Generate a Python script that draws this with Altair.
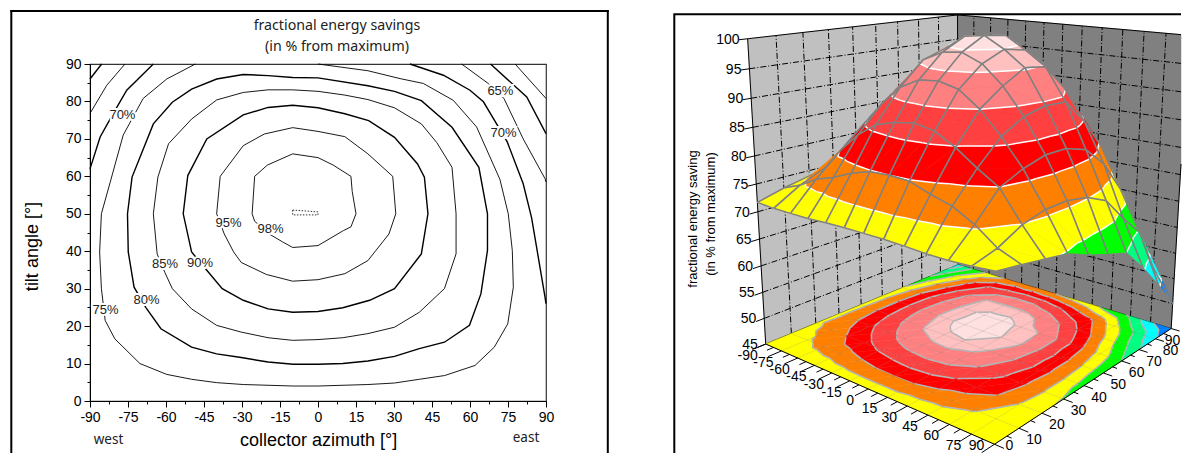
import altair as alt
import numpy as np
import pandas as pd

# ---------- left panel: contour lines (azimuth, tilt)
c100 = [(-10,51),(0,50.5),(0,49.7),(-10,49.7),(-10,51)]
c98 = [(-10,66),(0,65),(6,63),(13,60),(13.5,56),(15,50),(13,46.5),(10,45.5),(0,41.5),(-10,41),(-14,42.5),(-19,44.5),(-25,48),(-26,50),(-25.5,55),(-25,60),(-20,63),(-10,66)]
c95 = [(-10,73),(0,72),(10.6,70.6),(19.7,66),(29.5,60),(30.7,50),(28,44.6),(19.7,37.5),(10.6,34),(0,32.4),(-10,32),(-20.4,33.8),(-30.3,37),(-33.3,39.8),(-37,44.6),(-40,50),(-38.6,60),(-29.5,68.2),(-21.2,71.3),(-10,73)]
c90 = [(-10,79),(0,78.3),(10.6,76.7),(20,74.9),(30.2,70.4),(39.3,63.3),(42,59.8),(43.4,50),(40.8,39.3),(30.2,30),(20.4,26.9),(9.8,24.9),(0,23.9),(-10,23.7),(-19.7,24.6),(-29.5,26.9),(-37.8,30),(-43.9,34.9),(-49.9,39.8),(-53.2,50),(-51.4,60.2),(-43.9,70),(-29.5,76.4),(-19.7,78.4),(-10,79)]
c85 = [(-10,83.1),(0,82.7),(10.6,81.7),(19.7,80.5),(30.2,78.3),(40.8,74),(46.9,69),(52.9,62.4),(54.5,50),(54.5,39.3),(49.9,30),(40,23.7),(30.2,19.7),(19.7,18),(9.8,16.9),(0,16.4),(-10,16.2),(-19.7,16.9),(-30.3,18.4),(-40,20.2),(-49.9,24.6),(-57.5,30),(-60.5,34.4),(-63.5,39.3),(-65,50),(-63.2,59.8),(-59,68.7),(-49.9,75.3),(-40,80.4),(-29.5,82.4),(-19.7,83.1),(-10,83.1)]
c80 = [(-29.5,87.2),(-19.7,86.9),(-10,86.4),(0,86.3),(19.7,84.2),(30.2,82.7),(40.8,80.2),(52.9,73.1),(63.5,62.4),(66.9,50),(66.9,40.2),(64.3,28.6),(59.8,20.2),(49.9,15.7),(40,14),(30.2,11.9),(19.7,10.7),(9.8,10),(0,9.8),(-9.8,9.8),(-19.7,10.4),(-30.3,11.6),(-40,12.6),(-49.9,14.4),(-62,19.3),(-68,25),(-72.6,30.4),(-74.9,39.8),(-75.2,50),(-73.4,59.8),(-65,74),(-57.5,79.8),(-49.9,83.3),(-40,86),(-29.5,87.2)]
c75 = [(-48.4,90),(-59.7,86),(-69,80.8),(-76.9,71),(-82,58.5),(-85.5,50),(-86.2,39.8),(-85.5,30),(-84,21.5),(-80.2,16.6),(-70.3,10),(-59.7,7.1),(-49.9,5.8),(-40,4.9),(-29.5,4.4),(-9.8,4),(0,4),(19.7,4.4),(30.2,4.8),(40,5.8),(50,6.8),(62,9.5),(69.6,14.4),(74.9,20.6),(77.1,30.4),(76.7,40.2),(75.1,50),(71.8,59.2),(62.6,73.2),(53.4,80.3),(41.6,84.8),(32.4,86.1),(19.7,88.2),(0,90)]
c70w = [(-65,90),(-75.5,83),(-80.8,76.8),(-86,70.5),(-90,62)]
c70e = [(36.3,90),(49.5,87),(60,83),(65.3,79.9),(71.2,73.2),(74.7,69.2),(81,58),(84.3,49),(86.3,41),(89.6,27.8),(90,26)]
c65w = [(-76.2,90),(-83.4,84.3),(-90,76.8)]
c65e = [(56.7,90),(67.2,84.8),(73.4,80.8),(81,70),(89.6,59.4),(90,58.5)]
c60w = [(-85.4,90),(-90,86)]
c60e = [(68.1,90),(82.4,81.2),(90,71.4)]
c55e = [(77.8,90),(90,80.8)]

contour_parts = [("c100",c100,0.8),("c98",c98,0.9),("c95",c95,0.9),("c90",c90,1.4),("c85",c85,0.9),("c80",c80,1.4),("c75",c75,0.9),
                 ("c70w",c70w,1.4),("c70e",c70e,1.4),("c65w",c65w,0.9),("c65e",c65e,0.9),("c60w",c60w,1.4),("c60e",c60e,1.4),("c55e",c55e,0.9)]

label_text = ["70%","65%","70%","95%","98%","85%","90%","80%","75%"]
label_az   = [-77.2,72,73.2,-35.3,-18.7,-60.4,-46.6,-67.7,-83.9]
label_tilt = [76.4,82.8,71.5,47.5,45.9,36.5,36.8,26.9,24.2]

az_major = [-90,-75,-60,-45,-30,-15,0,15,30,45,60,75,90]
az_minor = [-82.5,-67.5,-52.5,-37.5,-22.5,-7.5,7.5,22.5,37.5,52.5,67.5,82.5]
tilt_major = [0,10,20,30,40,50,60,70,80,90]
tilt_minor = [5,15,25,35,45,55,65,75,85]

# ---------- right panel: surface values
grid_az = az_major
grid_tilt = tilt_major
Z = [
 [71.7,71.5,71.5,71.5,71.7,71.8,71.8,71.8,71.7,71.5,71.5,71.7,72.0],
 [73,74.3,76.2,77.3,78.8,79.8,80,79.8,78.5,77.5,75.5,72.8,71.3],
 [74,76.3,80.3,83.6,86,87,87.5,86.8,84.8,82.2,79.9,74.9,70.5],
 [73.5,79,84.2,88.2,91.5,93.3,93.6,92.7,90,86.2,81.7,75.9,69.7],
 [73,80,86.2,91.5,95.6,97.3,97.7,96.2,93,88.5,82.8,76,67.8],
 [72.5,80,87,93.1,97.1,99.5,100,98,95.3,89.4,82.8,75.2,66.3],
 [70.5,79,86.4,92.4,96.9,99,99.5,97.3,94.8,89.2,81.5,73.3,64.9],
 [67,75.7,83.5,89.8,95.2,95.8,95.8,94.2,90.3,84.9,77.8,68.7,60.5],
 [62.5,71,79,84.8,87,88.5,88.3,86,82.6,79.3,72,64.6,55.5],
 [57,65.5,71.5,75.3,76.5,76,75,73.5,71.5,67.5,64.3,56,50],
]
band_edges = [0,50,55,60,65,70,75,80,85,90,95,98,101]
band_colors = ['#0000ff','#0080ff','#00ffff','#00ff80','#00ff00','#ffff00','#ff8000','#ff0000','#ff4040','#ff8080','#ffc0c0','#ffe0e0']
z_labels = [45,50,55,60,65,70,75,80,85,90,95,100]

# camera calibration: cube corners (azimuth, tilt, value) and where they appear
cube_corners = [(-90,0,45),(90,0,45),(90,90,45),(-90,90,45),(-90,0,100),(-90,90,100),(90,90,100)]
cube_pixels = [(766,343),(996,443),(1171.5,328),(960,263.5),(749,38),(958,14),(1190,34)]

X0,X1,Y0,Y1 = 660,1182,63,400
BOTTOM = 452

def norm(a,t,z):
    return ((a+90)/180.0, t/90.0, (z-45)/55.0, 1.0)
A = []
for (a,t,z),(x,y) in zip(cube_corners,cube_pixels):
    X = norm(a,t,z)
    A.append([*X,0,0,0,0,*[-x*v for v in X]])
    A.append([0,0,0,0,*X,*[-y*v for v in X]])
P = np.linalg.svd(np.array(A))[2][-1].reshape(3,4)
def project(a,t,z):
    h = P @ np.array(norm(a,t,z))
    return float(h[0]/h[2]), float(h[1]/h[2])

def clip_tri(poly, level, keep_above):
    out = []
    n = len(poly)
    for i in range(n):
        p, q = poly[i], poly[(i+1) % n]
        pin = p[2] >= level if keep_above else p[2] <= level
        qin = q[2] >= level if keep_above else q[2] <= level
        if pin:
            out.append(p)
        if pin != qin:
            f = (level-p[2])/(q[2]-p[2])
            out.append((p[0]+f*(q[0]-p[0]), p[1]+f*(q[1]-p[1]), level))
    return out

def clip_right(points):
    out = []
    for p,q in zip(points[:-1],points[1:]):
        if p[0] <= X1:
            out.append(p)
        if (p[0] <= X1) != (q[0] <= X1):
            f = (X1-p[0])/(q[0]-p[0])
            out.append((X1, p[1]+f*(q[1]-p[1])))
    if points[-1][0] <= X1:
        out.append(points[-1])
    return out

rows = []
pid = [0]
def add(points, fill, stroke, width):
    pid[0] += 1
    for k,(x,y) in enumerate(clip_right(points)):
        rows.append(dict(id=pid[0],k=k,px=x,py=min(y,BOTTOM),f=fill,s=stroke,w=width))

def draw_patch(i, j, floor, line_col, line_w):
    az0,az1 = grid_az[i],grid_az[i+1]
    t0,t1 = grid_tilt[j],grid_tilt[j+1]
    a=(az0,t0,Z[j][i]); b=(az1,t0,Z[j][i+1]); c=(az1,t1,Z[j+1][i+1]); d=(az0,t1,Z[j+1][i])
    pr = (lambda v: project(v[0],v[1],45)) if floor else (lambda v: project(*v))
    segs = []
    for tri in ([a,b,c],[a,c,d]):
        for lo,hi,col in zip(band_edges[:-1],band_edges[1:],band_colors):
            poly = clip_tri(clip_tri(tri,lo,True),hi,False)
            if len(poly) < 3:
                continue
            pts = [pr(v) for v in poly]
            add(pts+[pts[0]], col, col, 0.5)
            n = len(poly)
            for m in range(n):
                p,q = poly[m],poly[(m+1)%n]
                if abs(p[2]-hi)<1e-9 and abs(q[2]-hi)<1e-9 and hi<101:
                    segs.append([pr(p),pr(q)])
    for s in segs:
        add(s,'transparent',line_col,line_w)

# floor
for i in range(12):
    for j in range(8,-1,-1):
        draw_patch(i,j,True,'#b4b4b4',1.6)
for a in grid_az:
    add([project(a,t,45) for t in (0,90)],'transparent','rgba(110,110,110,0.3)',0.6)
for t in grid_tilt:
    add([project(a,t,45) for a in (-90,90)],'transparent','rgba(110,110,110,0.3)',0.6)
# surface, far to near
for i in range(12):
    for j in range(8,-1,-1):
        draw_patch(i,j,False,'#ffffff',1.5)
        az0,az1 = grid_az[i],grid_az[i+1]
        t0,t1 = grid_tilt[j],grid_tilt[j+1]
        ring = [(az0,t0,Z[j][i]),(az1,t0,Z[j][i+1]),(az1,t1,Z[j+1][i+1]),(az0,t1,Z[j+1][i]),(az0,t0,Z[j][i])]
        add([project(*v) for v in ring],'transparent','#808080',1.5)
surf = pd.DataFrame(rows)

# walls
rows = []; pid[0] = 0
wl = [project(-90,0,45),project(-90,90,45),project(-90,90,100),project(-90,0,100)]
wr = [project(-90,90,45),project(90,90,45),project(90,90,100),project(-90,90,100)]
add(wl+[wl[0]],'#c0c0c0','#c0c0c0',0.5)
add(wr+[wr[0]],'#808080','#808080',0.5)
walls = pd.DataFrame(rows)

rows = []; pid[0] = 0
for z in z_labels[1:-1]:
    add([project(-90,0,z),project(-90,90,z),project(90,90,z)],'transparent','#000000',1)
for t in tilt_major[1:-1]:
    add([project(-90,t,45),project(-90,t,100)],'transparent','#000000',1)
for a in az_major[1:-1]:
    add([project(a,90,45),project(a,90,100)],'transparent','#000000',1)
dashes = pd.DataFrame(rows)

rows = []; pid[0] = 0
for e in ([(-90,0,45),(-90,0,100)],[(-90,0,100),(-90,90,100)],[(-90,90,100),(90,90,100)],[(90,90,100),(90,90,45)],[(-90,90,45),(-90,90,100)],
          [(-90,0,45),(-90,90,45)],[(-90,90,45),(90,90,45)]):
    add([project(*v) for v in e],'transparent','#000000',1)
edges1 = pd.DataFrame(rows)

rows = []; pid[0] = 0
for e in ([(-90,0,45),(90,0,45)],[(90,0,45),(90,90,45)]):
    add([project(*v) for v in e],'transparent','#000000',1)
for a in az_major:
    add([project(a,0,45),project(a,-5,45)],'transparent','#000000',1)
for a in az_minor:
    add([project(a,0,45),project(a,-2.5,45)],'transparent','#000000',1)
for t in tilt_major:
    add([project(90,t,45),project(96,t,45)],'transparent','#000000',1)
for t in tilt_minor:
    add([project(90,t,45),project(93,t,45)],'transparent','#000000',1)
for z in z_labels:
    add([project(-90,0,z),project(-90,-3,z)],'transparent','#000000',1)
edges2 = pd.DataFrame(rows)

az_tx = pd.DataFrame([dict(px=project(a,0,45)[0]-18,py=min(project(a,0,45)[1]+12,BOTTOM-7.5),t=str(a)) for a in az_major])
tilt_tx = pd.DataFrame([dict(px=min(project(90,t,45)[0]+15,X1-8.5),py=min(project(90,t,45)[1]+12,BOTTOM-7.5),t=str(t)) for t in tilt_major])
z_tx = pd.DataFrame([dict(px=project(-90,0,z)[0],py=project(-90,0,z)[1],t=str(z)) for z in z_labels])

# ---------- left chart
crow = []
for name,pts,w in contour_parts:
    for k,(a,t) in enumerate(pts):
        crow.append(dict(part=name,k=k,az=a,tilt=t,w=w))
cdf = pd.DataFrame(crow)
ldf = pd.DataFrame(dict(az=label_az,tilt=label_tilt,t=label_text))

FONT = "Liberation Sans"
xs = alt.Scale(domain=[-90,90],nice=False,zero=False)
ys = alt.Scale(domain=[0,90],nice=False,zero=False)

lines = alt.Chart(cdf).transform_filter("datum.part != 'c100'").mark_line(color='black').encode(
    x=alt.X('az:Q',scale=xs,axis=alt.Axis(orient='bottom',values=az_major,title='collector azimuth [°]',labelExpr="datum.value+''",grid=False,tickColor='black',domainColor='black',
        labelColor='black',labelFont=FONT,labelFontSize=14,labelPadding=3,tickSize=6,titleFont=FONT,titleFontSize=18,titleFontWeight='normal',titleColor='black',titlePadding=7,labelOverlap=False,labelFlush=False)),
    y=alt.Y('tilt:Q',scale=ys,axis=alt.Axis(orient='left',values=tilt_major,title='tilt angle [°]',labelExpr="datum.value+''",grid=False,tickColor='black',domainColor='black',
        labelColor='black',labelFont=FONT,labelFontSize=14,labelPadding=3,tickSize=6,titleFont=FONT,titleFontSize=18,titleFontWeight='normal',titleColor='black',titleX=-49,titleY=182,labelOverlap=False)),
    detail='part:N',order='k:Q',strokeWidth=alt.StrokeWidth('w:Q',scale=None))
dotted = alt.Chart(cdf).transform_filter("datum.part == 'c100'").mark_line(color='black',strokeDash=[1.5,1.5],strokeWidth=0.8).encode(
    x=alt.X('az:Q',axis=None),y=alt.Y('tilt:Q',axis=None),order='k:Q')
minor_df = pd.DataFrame(dict(az=az_minor[:9],tilt=tilt_minor))
minor = alt.Chart(minor_df).mark_point(opacity=0).encode(
    x=alt.X('az:Q',axis=alt.Axis(orient='bottom',values=az_minor,labels=False,title=None,domain=False,grid=False,tickSize=3,tickColor='black')),
    y=alt.Y('tilt:Q',axis=alt.Axis(orient='left',values=tilt_minor,labels=False,title=None,domain=False,grid=False,tickSize=3,tickColor='black')))
halo = alt.Chart(ldf).mark_text(font=FONT,fontSize=13,color='white',stroke='white',strokeWidth=4).encode(
    x=alt.X('az:Q',axis=None),y=alt.Y('tilt:Q',axis=None),text='t:N')
text = alt.Chart(ldf).mark_text(font=FONT,fontSize=13,color='#222222').encode(
    x=alt.X('az:Q',axis=None),y=alt.Y('tilt:Q',axis=None),text='t:N')

def note(s,x,y,size=13.5):
    return alt.Chart(pd.DataFrame(dict(t=[s]))).mark_text(font="Noto Sans",fontSize=size,color='#222222').encode(
        x=alt.value(x),y=alt.value(y),text='t:N')
title1 = note("fractional energy savings",247,-38,14.2)
title2 = note("(in % from maximum)",247,-17,14.2)
west = note("west",18.5,375.5)
east = note("east",436,373.5)

def frame(x,x2,y,y2,w):
    return alt.Chart(pd.DataFrame(dict(a=[1]))).mark_rule(color='black',strokeWidth=w).encode(
        x=alt.value(x),x2=alt.value(x2),y=alt.value(y),y2=alt.value(y2))
BOT = BOTTOM-Y0
f1 = frame(-78.7,-78.7,-54,BOT,2)
f2 = frame(-79.7,518.8,-53,-53,2)
f3 = frame(517.8,517.8,-54,BOT,2)

left = alt.layer(lines,minor,dotted,halo,text,title1,title2,west,east,f1,f2,f3).resolve_axis(x='independent',y='independent').properties(
    width=456,height=337,view=alt.ViewBackground(stroke='#333333',strokeWidth=1.2))

# ---------- right chart
rx = alt.Scale(domain=[X0,X1],nice=False,zero=False)
ry = alt.Scale(domain=[Y1,Y0],nice=False,zero=False)
def polys(df,dash=None):
    kw = dict(strokeJoin='round')
    if dash: kw['strokeDash']=dash
    return alt.Chart(df).mark_line(**kw).encode(
        x=alt.X('px:Q',scale=rx,axis=None),y=alt.Y('py:Q',scale=ry,axis=None),detail='id:N',order='k:Q',
        fill=alt.Fill('f:N',scale=None),stroke=alt.Stroke('s:N',scale=None),strokeWidth=alt.StrokeWidth('w:Q',scale=None))
def labels(df,dx,dy,align='center'):
    return alt.Chart(df).mark_text(font=FONT,fontSize=14,color='black',dx=dx,dy=dy,align=align).encode(
        x=alt.X('px:Q',scale=rx,axis=None),y=alt.Y('py:Q',scale=ry,axis=None),text='t:N')
frame_df = pd.DataFrame(dict(px=[675.3,675.3,X1],py=[BOTTOM,13.3,13.3],k=[0,1,2]))
fr = alt.Chart(frame_df).mark_line(color='black',strokeWidth=2).encode(
    x=alt.X('px:Q',scale=rx,axis=None),y=alt.Y('py:Q',scale=ry,axis=None),order='k:Q')
def rot(s,x,y):
    return alt.Chart(pd.DataFrame(dict(t=[s]))).mark_text(font=FONT,fontSize=13,angle=270,color='black').encode(
        x=alt.value(x-X0),y=alt.value(y-Y0),text='t:N')
right = alt.layer(polys(walls),polys(dashes,[6,2,1,2]),polys(edges1),polys(surf),polys(edges2),
    labels(az_tx,0,0),labels(tilt_tx,0,0),labels(z_tx,-8,1,'right'),fr,
    rot("fractional energy saving",694,218),rot("(in % from maximum)",712,213)).properties(
    width=X1-X0,height=Y1-Y0,view=alt.ViewBackground(stroke='transparent'))

chart = alt.hconcat(left,right,spacing=47).properties(
    padding={"left":0,"top":0,"right":0,"bottom":0})
chart.save("out.html", embed_options={"renderer": "svg", "actions": False})
